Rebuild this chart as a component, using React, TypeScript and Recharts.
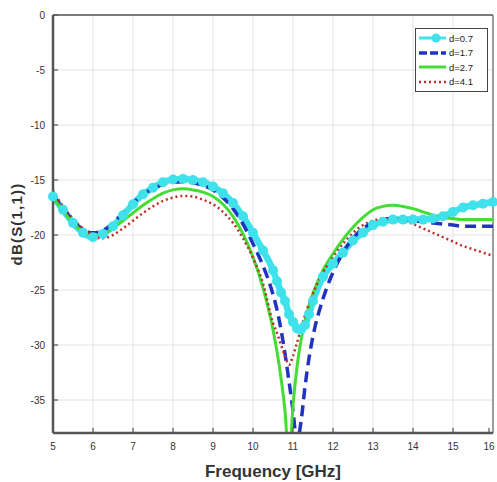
import { LineChart, Line, XAxis, YAxis, CartesianGrid, ReferenceLine, Legend } from 'recharts';

// frequency samples [GHz], denser around the resonance
const freq = [
  5, 5.25, 5.5, 5.75, 6, 6.25, 6.5, 6.75, 7, 7.25, 7.5, 7.75, 8, 8.25, 8.5, 8.75, 9, 9.25, 9.5, 9.75,
  10, 10.25, 10.5, 10.6, 10.7, 10.8, 10.9, 11, 11.1, 11.2, 11.3, 11.4, 11.5, 11.75, 12, 12.25, 12.5,
  12.75, 13, 13.25, 13.5, 13.75, 14, 14.25, 14.5, 14.75, 15, 15.25, 15.5, 15.75, 16,
];

// dB(S(1,1)) per spacing d
const d07 = [
  -16.5, -17.7, -18.9, -19.8, -20.2, -19.9, -19.2, -18.2, -17.2, -16.3, -15.7, -15.2, -14.95, -14.9, -15.0, -15.2, -15.6, -16.2, -17.1, -18.3,
  -19.8, -21.4, -23.2, -24.2, -25.2, -26.0, -27.2, -27.9, -28.5, -28.6, -28.2, -27.2, -26.0, -23.8, -22.6, -21.6, -20.5,
  -19.8, -19.1, -18.8, -18.6, -18.6, -18.6, -18.6, -18.5, -18.3, -17.9, -17.5, -17.3, -17.15, -17.0,
];
const d17 = [
  -16.4, -17.6, -18.7, -19.5, -19.8, -19.6, -18.9, -18.0, -17.1, -16.3, -15.8, -15.4, -15.2, -15.15, -15.25, -15.5, -15.9, -16.6, -17.6, -19.0,
  -20.8, -22.8, -25.4, -26.8, -28.6, -30.8, -33.3, -36.0, -38.8, -37.0, -33.8, -31.2, -29.2, -25.8, -23.4, -21.6, -20.3,
  -19.4, -18.9, -18.6, -18.5, -18.6, -18.7, -18.8, -18.9, -19.0, -19.1, -19.2, -19.2, -19.2, -19.2,
];
const d27 = [
  -16.6, -17.8, -18.9, -19.7, -20.0, -19.9, -19.4, -18.7, -18.0, -17.3, -16.7, -16.2, -15.9, -15.8, -15.9, -16.1, -16.5, -17.2, -18.3, -19.9,
  -22.0, -24.8, -28.6, -30.6, -33.0, -36.0, -40.5, -35.5, -32.0, -29.6, -27.8, -26.4, -25.3, -23.2, -21.7, -20.4, -19.3,
  -18.4, -17.7, -17.4, -17.3, -17.4, -17.6, -17.9, -18.2, -18.4, -18.5, -18.6, -18.6, -18.6, -18.6,
];
const d41 = [
  -16.0, -17.4, -18.5, -19.4, -20.0, -20.3, -20.0, -19.4, -18.7, -18.0, -17.4, -16.9, -16.6, -16.45, -16.5, -16.8, -17.2, -17.9, -18.9, -20.3,
  -22.1, -24.4, -28.0, -28.9, -30.0, -31.0, -31.8, -31.0, -29.8, -28.5, -27.3, -26.2, -25.3, -23.4, -22.0, -20.8, -19.8,
  -19.1, -18.7, -18.5, -18.5, -18.7, -19.0, -19.4, -19.8, -20.2, -20.6, -21.0, -21.3, -21.6, -21.9,
];

const xTicks = [5, 6, 7, 8, 9, 10, 11, 12, 13, 14, 15, 16];
const yTicks = [0, -5, -10, -15, -20, -25, -30, -35];

const series = [
  { key: 'd07', name: 'd=0.7', color: '#3fe2ea', width: 6.5, dash: undefined, dot: true },
  { key: 'd17', name: 'd=1.7', color: '#2233c0', width: 3.5, dash: '11 6', dot: false },
  { key: 'd27', name: 'd=2.7', color: '#45dc35', width: 3, dash: undefined, dot: false },
  { key: 'd41', name: 'd=4.1', color: '#b8302c', width: 2.5, dash: '2 3', dot: false },
];

const data = freq.map((f, i) => ({ f, d07: d07[i], d17: d17[i], d27: d27[i], d41: d41[i] }));

const font = '"Liberation Sans", Arial, sans-serif';

function XTick({ x, y, payload }: any) {
  return (
    <g>
      <line x1={x} x2={x} y1={y - 8} y2={y - 13} stroke="#555" strokeWidth={1.2} />
      <text x={x} y={y + 9} textAnchor="middle" fontSize={10} fill="#333" fontFamily={font}>
        {payload.value}
      </text>
    </g>
  );
}

function YTick({ x, y, payload }: any) {
  return (
    <g>
      <line x1={x + 8} x2={x + 13} y1={y} y2={y} stroke="#555" strokeWidth={1.2} />
      <text x={x} y={y + 3.5} textAnchor="end" fontSize={10} fill="#333" fontFamily={font}>
        {payload.value}
      </text>
    </g>
  );
}

function LegendBox() {
  return (
    <div
      style={{
        border: '1.5px solid #444',
        background: '#fff',
        width: 71,
        padding: '2px 0',
        fontFamily: font,
        fontSize: 9.5,
        color: '#222',
      }}
    >
      {series.map(s => (
        <div key={s.key} style={{ display: 'flex', alignItems: 'center', height: 14.5 }}>
          <svg width={30} height={12} style={{ marginLeft: 2 }}>
            <line x1={1} x2={28} y1={6} y2={6} stroke={s.color} strokeWidth={s.key === 'd07' ? 3 : s.width} strokeDasharray={s.key === 'd17' ? '8 3' : s.dash} />
            {s.dot && <circle cx={18} cy={6} r={4.5} fill={s.color} />}
          </svg>
          <span style={{ marginLeft: 1 }}>{s.name}</span>
        </div>
      ))}
    </div>
  );
}

export default function App() {
  return (
    <div style={{ position: 'absolute', left: 0, top: 0, width: 497, height: 482, background: '#fff' }}>
      <LineChart width={497} height={482} data={data} margin={{ top: 15, right: 4, bottom: 0, left: 8 }}>
        <CartesianGrid stroke="#e2e2e2" strokeWidth={1} />
        <XAxis
          dataKey="f"
          type="number"
          domain={[5, 16]}
          ticks={xTicks}
          height={49}
          tickLine={false}
          axisLine={{ stroke: '#555', strokeWidth: 2.5 }}
          tick={<XTick />}
          label={{ value: 'Frequency [GHz]', position: 'insideBottom', offset: 5, fontSize: 17, fontWeight: 'bold', fill: '#333', fontFamily: font }}
        />
        <YAxis
          type="number"
          domain={[-38, 0]}
          ticks={yTicks}
          allowDataOverflow
          width={45}
          tickLine={false}
          axisLine={{ stroke: '#555', strokeWidth: 2.5 }}
          tick={<YTick />}
          label={{
            value: 'dB(S(1,1))',
            angle: -90,
            position: 'insideLeft',
            offset: 9,
            fontSize: 15,
            fontWeight: 'bold',
            fill: '#333',
            fontFamily: font,
            style: { textAnchor: 'middle', letterSpacing: 1.2 },
          }}
        />
        <ReferenceLine y={0} stroke="#555" strokeWidth={1.5} />
        <ReferenceLine x={16} stroke="#666" strokeWidth={1.2} />
        <Legend
          layout="horizontal"
          verticalAlign="middle"
          align="center"
          content={() => <LegendBox />}
          wrapperStyle={{ position: 'absolute', left: 415, top: 28, width: 'auto', height: 'auto' }}
        />
        {series.map(s => (
          <Line
            key={s.key}
            dataKey={s.key}
            name={s.name}
            type="monotone"
            stroke={s.color}
            strokeWidth={s.width}
            strokeDasharray={s.dash}
            dot={s.dot ? { r: 5, fill: s.color, stroke: s.color, strokeWidth: 0 } : false}
            activeDot={false}
            isAnimationActive={false}
          />
        ))}
      </LineChart>
    </div>
  );
}
